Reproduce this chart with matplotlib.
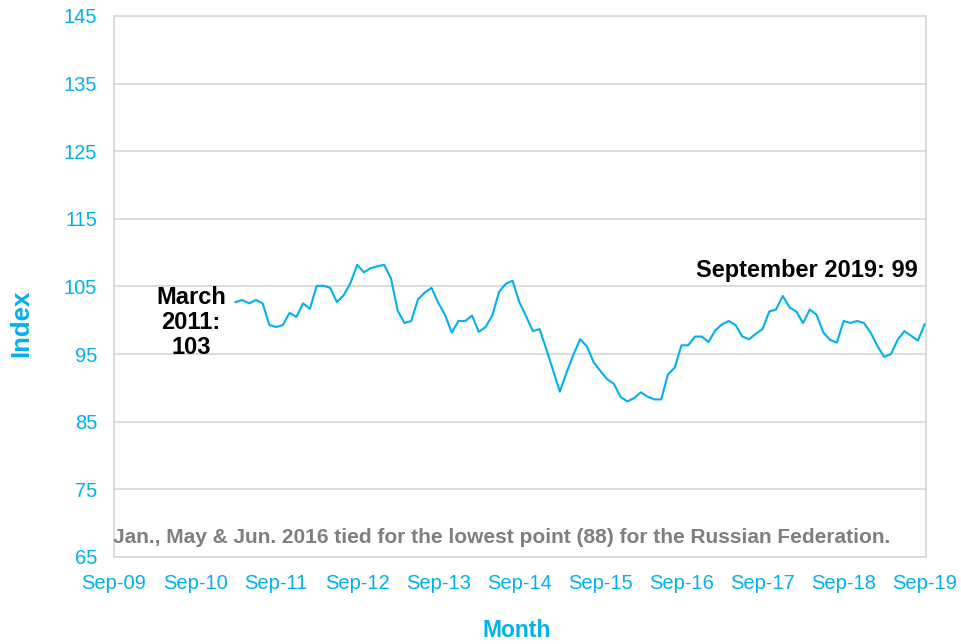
import numpy as np
import matplotlib
matplotlib.use('Agg')
import matplotlib.pyplot as plt

plt.rcParams['font.family'] = ['Liberation Sans', 'DejaVu Sans']

blue = '#00B0F0'
grid_grey = '#D9D9D9'

# months counted from Sep 2009 (= 0); data runs Mar 2011 .. Sep 2019
start_month = 18
index_values = [
    102.7, 103.0, 102.5, 103.0, 102.5, 99.3, 99.0, 99.3, 101.1, 100.5,
    102.5, 101.7, 105.1, 105.1, 104.8, 102.7, 103.7, 105.5, 108.2, 107.1,
    107.7, 108.0, 108.2, 106.2, 101.4, 99.6, 99.9, 103.1, 104.1, 104.8,
    102.6, 100.8, 98.2, 99.9, 99.9, 100.7, 98.3, 99.0, 100.7, 104.2,
    105.4, 105.85, 102.7, 100.6, 98.4, 98.7, 95.7, 92.6, 89.45, 92.3,
    94.9, 97.2, 96.15, 93.8, 92.5, 91.3, 90.6, 88.65, 88.0, 88.5,
    89.35, 88.7, 88.3, 88.3, 92.0, 93.0, 96.3, 96.3, 97.6, 97.6,
    96.8, 98.5, 99.4, 99.9, 99.3, 97.6, 97.2, 98.0, 98.7, 101.3,
    101.6, 103.6, 101.9, 101.3, 99.6, 101.6, 100.8, 98.2, 97.1, 96.7,
    99.9, 99.6, 99.9, 99.6, 98.2, 96.2, 94.6, 95.0, 97.1, 98.4,
    97.7, 97.0, 99.4,
]
months = np.arange(start_month, start_month + len(index_values))

tick_months = list(range(0, 121, 12))
tick_labels = ['Sep-09', 'Sep-10', 'Sep-11', 'Sep-12', 'Sep-13', 'Sep-14',
               'Sep-15', 'Sep-16', 'Sep-17', 'Sep-18', 'Sep-19']
y_ticks = list(range(65, 146, 10))

fig = plt.figure(figsize=(9.61, 6.44), dpi=100)
ax = fig.add_axes([0.1186, 0.1351, 0.8450, 0.8401])

ax.plot(months, index_values, color=blue, linewidth=1.5, zorder=3)

ax.set_xlim(0, 120.2)
ax.set_ylim(65, 145)
ax.set_xticks(tick_months)
ax.set_xticklabels(tick_labels)
ax.set_yticks(y_ticks)
ax.tick_params(axis='both', length=0, labelsize=14.5, labelcolor=blue)
ax.tick_params(axis='x', pad=12.5)
ax.tick_params(axis='y', pad=12)
ax.grid(axis='y', color=grid_grey, linewidth=1.3)
for s in ax.spines.values():
    s.set_color(grid_grey)
    s.set_linewidth(1.3)

ax.set_xlabel('Month', fontsize=16.5, fontweight='bold', color=blue, va='center')
ax.xaxis.set_label_coords(0.496, -0.135)
ax.set_ylabel('Index', fontsize=18.5, fontweight='bold', color=blue, va='center')
ax.yaxis.set_label_coords(-0.1145, 0.4325)

ax.text(11.4, 99.7, 'March\n2011:\n103', ha='center', va='center',
        fontsize=17, fontweight='bold', color='black', linespacing=1.1)
ax.text(102.5, 107.3, 'September 2019: 99', ha='center', va='center',
        fontsize=17, fontweight='bold', color='black')
ax.text(57.4, 67.9,
        'Jan., May & Jun. 2016 tied for the lowest point (88) for the Russian Federation.',
        ha='center', va='center', fontsize=15, fontweight='bold', color='#7F7F7F')

fig.savefig('out.png', dpi=100)
